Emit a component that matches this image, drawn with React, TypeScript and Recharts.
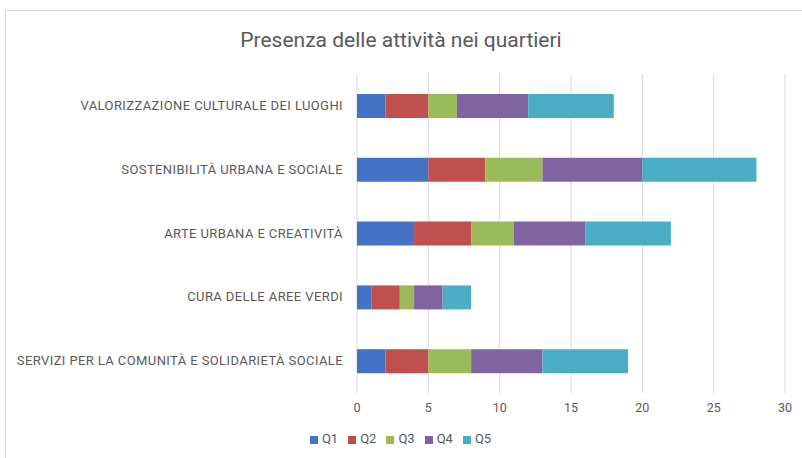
import React from 'react'
import { BarChart, Bar, XAxis, YAxis, CartesianGrid, Legend } from 'recharts'

const categories = [
    'VALORIZZAZIONE CULTURALE DEI LUOGHI',
    'SOSTENIBILITÀ URBANA E SOCIALE',
    'ARTE URBANA E CREATIVITÀ',
    'CURA DELLE AREE VERDI',
    'SERVIZI PER LA COMUNITÀ E SOLIDARIETÀ SOCIALE',
]
const q1 = [2, 5, 4, 1, 2]
const q2 = [3, 4, 4, 2, 3]
const q3 = [2, 4, 3, 1, 3]
const q4 = [5, 7, 5, 2, 5]
const q5 = [6, 8, 6, 2, 6]
const xTicks = [0, 5, 10, 15, 20, 25, 30]

const series = [
    { key: 'Q1', values: q1, color: '#4472C4' },
    { key: 'Q2', values: q2, color: '#C0504D' },
    { key: 'Q3', values: q3, color: '#9BBB59' },
    { key: 'Q4', values: q4, color: '#8064A2' },
    { key: 'Q5', values: q5, color: '#4BACC6' },
]

const data = categories.map((name, i) => {
    const row: Record<string, string | number> = { name }
    series.forEach(s => { row[s.key] = s.values[i] })
    return row
})

const font = 'Roboto, "Open Sans", sans-serif'

// single-line category label, right aligned (no wrapping)
const CategoryTick = (props: any) => {
    const { x, y, payload } = props
    return (
        <text x={x} y={y} dy={4} textAnchor="end" fill="#595959" fontSize={13} fontFamily={font} letterSpacing={0.4}>
            {payload.value}
        </text>
    )
}

const App = () => {
    return (
        <div style={{ position: 'absolute', left: 0, top: 0, width: 802, height: 458, background: '#fff', overflow: 'hidden', fontFamily: font }}>
            <div style={{ position: 'absolute', left: 5, top: 10, width: 820, height: 480, border: '1px solid #d9d9d9' }} />
            <div style={{ position: 'absolute', left: 0, top: 28, width: 802, textAlign: 'center', fontSize: 21, color: '#595959' }}>
                Presenza delle attività nei quartieri
            </div>
            <BarChart
                width={802}
                height={458}
                data={data}
                layout="vertical"
                margin={{ top: 74, right: 17, left: 0, bottom: 12 }}
                barSize={24}
            >
                <CartesianGrid horizontal={false} stroke="#d9d9d9" />
                <XAxis
                    type="number"
                    domain={[0, 30]}
                    ticks={xTicks}
                    axisLine={false}
                    tickLine={false}
                    height={38}
                    tickMargin={4}
                    tick={{ fill: '#595959', fontSize: 12.5, fontFamily: font }}
                />
                <YAxis
                    type="category"
                    dataKey="name"
                    width={357}
                    axisLine={false}
                    tickLine={false}
                    tickMargin={8}
                    interval={0}
                    tick={<CategoryTick />}
                />
                <Legend
                    verticalAlign="bottom"
                    iconType="square"
                    iconSize={8}
                    wrapperStyle={{ fontSize: 13, color: '#595959', fontFamily: font, paddingLeft: 13 }}
                    formatter={(value) => <span style={{ color: '#595959' }}>{value}</span>}
                />
                {series.map(s => (
                    <Bar key={s.key} dataKey={s.key} stackId="a" fill={s.color} isAnimationActive={false} />
                ))}
            </BarChart>
        </div>
    )
}

export default App
